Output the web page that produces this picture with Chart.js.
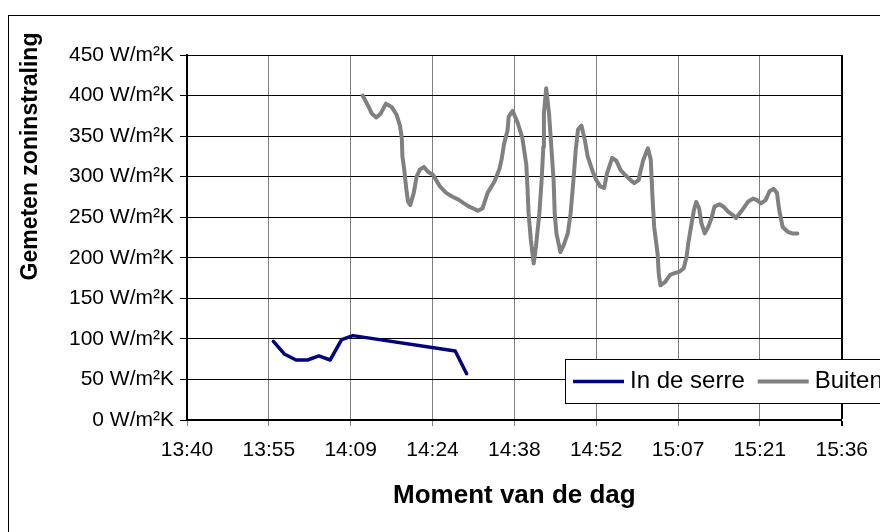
<!DOCTYPE html>
<html>
<head>
<meta charset="utf-8">
<script src="https://cdn.jsdelivr.net/npm/chart.js@4.4.1/dist/chart.umd.min.js"></script>
<style>
  html, body { margin: 0; padding: 0; background: #fff; }
  canvas { display: block; }
</style>
</head>
<body>
<canvas id="grafiek" width="880" height="532"></canvas>
<script>
// Tijdas: labels van de verticale rasterlijnen (stap 14,4 minuten)
const xTickLabels = ['13:40', '13:55', '14:09', '14:24', '14:38', '14:52', '15:07', '15:21', '15:36'];
const asStart = '13:40:48';
const asStapMinuten = 14.4;

// Eenheid achter de waarden op de verticale as
const yEenheid = ' W/m²K';

// Meting in de serre
const serreTijd = ['13:56', '13:58', '14:00', '14:02', '14:04', '14:06', '14:08', '14:10', '14:28', '14:30'];
const serreWaarde = [97, 81, 74, 74, 79, 74, 99, 104, 85, 57];

// Meting buiten
const buitenTijd = [
  '14:11:42', '14:12:42', '14:13:18', '14:14:06', '14:14:54', '14:15:48', '14:16:48', '14:17:42',
  '14:18:18', '14:18:36', '14:18:42', '14:19:00', '14:19:24', '14:19:42', '14:20:06', '14:20:42',
  '14:21:12', '14:21:48', '14:22:30', '14:23:12', '14:24:06', '14:25:18', '14:26:24', '14:27:36',
  '14:28:30', '14:30:12', '14:32:00', '14:32:48', '14:33:42', '14:34:54', '14:35:48', '14:36:12',
  '14:36:36', '14:37:12', '14:37:24', '14:38:06', '14:39:00', '14:39:48', '14:40:30', '14:40:42',
  '14:40:54', '14:41:18', '14:41:48', '14:42:12', '14:42:48', '14:43:12', '14:43:30', '14:43:36',
  '14:44:00', '14:44:30', '14:44:54', '14:45:18', '14:45:30', '14:45:48', '14:46:30', '14:47:06',
  '14:47:48', '14:48:18', '14:48:48', '14:49:12', '14:49:36', '14:50:12', '14:50:48', '14:51:18',
  '14:52:06', '14:52:48', '14:53:30', '14:54:12', '14:54:42', '14:55:36', '14:56:18', '14:57:06',
  '14:57:54', '14:58:48', '14:59:30', '15:00:18', '15:00:30', '15:01:06', '15:01:54', '15:02:24',
  '15:02:42', '15:03:00', '15:03:36', '15:03:48', '15:04:06', '15:04:54', '15:05:48', '15:06:36',
  '15:07:30', '15:08:12', '15:08:42', '15:09:00', '15:09:36', '15:10:00', '15:10:24', '15:10:54',
  '15:11:18', '15:11:54', '15:12:30', '15:13:06', '15:13:36', '15:14:30', '15:15:12', '15:16:00',
  '15:16:48', '15:17:24', '15:18:18', '15:19:30', '15:20:24', '15:21:06', '15:21:48', '15:22:36',
  '15:23:18', '15:24:00', '15:24:36', '15:25:00', '15:25:36', '15:26:30', '15:27:18', '15:28:12'
];
const buitenWaarde = [
  400, 387, 378, 373, 378, 390, 386, 376,
  362, 347, 325, 310, 284, 269, 265, 280,
  300, 309, 312, 306, 302, 288, 280, 275,
  272, 264, 258, 261, 280, 294, 310, 323,
  341, 357, 374, 381, 366, 348, 315, 288,
  255, 222, 193, 214, 255, 296, 337, 378,
  409, 378, 337, 296, 255, 230, 207, 216,
  230, 255, 296, 333, 358, 363, 345, 325,
  308, 296, 288, 286, 304, 323, 320, 308,
  302, 296, 292, 296, 304, 321, 335, 321,
  275, 238, 205, 181, 166, 170, 179, 181,
  183, 187, 201, 218, 243, 259, 269, 261,
  243, 230, 238, 249, 263, 266, 263, 257,
  253, 249, 257, 269, 273, 271, 267, 271,
  282, 285, 280, 259, 238, 232, 230, 230
];

// "uu:mm[:ss]" -> minuten sinds middernacht
function naarMinuten(t) {
  const d = t.split(':').map(Number);
  return d[0] * 60 + d[1] + (d[2] || 0) / 60;
}
function punten(tijden, waarden) {
  return tijden.map((t, i) => ({ x: naarMinuten(t), y: waarden[i] }));
}

const xMin = naarMinuten(asStart);
const xMax = xMin + (xTickLabels.length - 1) * asStapMinuten;
const FONT = "'Liberation Sans', Arial, sans-serif";

// Kader, astitels en legenda
const opmaak = {
  id: 'opmaak',
  beforeDraw(chart) {
    const c = chart.ctx;
    c.save();
    c.fillStyle = '#fff';
    c.fillRect(0, 0, chart.width, chart.height);
    c.strokeStyle = '#000';
    c.lineWidth = 1;
    c.strokeRect(8.5, 15.5, 1000, 1000);
    c.restore();
  },
  afterDraw(chart) {
    const c = chart.ctx;
    const area = chart.chartArea;
    c.save();
    c.fillStyle = '#000';

    // titel verticale as
    c.font = 'bold 23px ' + FONT;
    c.textAlign = 'center';
    c.textBaseline = 'alphabetic';
    c.translate(37, 156.5);
    c.rotate(-Math.PI / 2);
    c.fillText('Gemeten zoninstraling', 0, 0);
    c.setTransform(1, 0, 0, 1, 0, 0);

    // titel horizontale as
    c.font = 'bold 26px ' + FONT;
    c.fillText('Moment van de dag', (area.left + area.right) / 2, 503);

    // legenda
    const top = 359.5, hoogte = 44;
    c.fillStyle = '#fff';
    c.fillRect(565.5, top, 1000, hoogte);
    c.strokeStyle = '#000';
    c.lineWidth = 1;
    c.strokeRect(565.5, top, 1000, hoogte);
    c.font = '24px ' + FONT;
    c.textAlign = 'left';
    c.textBaseline = 'middle';
    let x = 573;
    const ym = top + hoogte / 2;
    chart.data.datasets.forEach(ds => {
      c.strokeStyle = ds.borderColor;
      c.lineWidth = ds.borderWidth;
      c.beginPath();
      c.moveTo(x, ym);
      c.lineTo(x + 51, ym);
      c.stroke();
      c.fillStyle = '#000';
      c.fillText(ds.label, x + 57, ym);
      x += 57 + c.measureText(ds.label).width + 13;
    });
    c.restore();
  }
};

new Chart(document.getElementById('grafiek'), {
  type: 'line',
  data: {
    datasets: [
      {
        label: 'In de serre',
        data: punten(serreTijd, serreWaarde),
        borderColor: '#000080',
        borderWidth: 3.5,
        pointRadius: 0,
        tension: 0,
        borderJoinStyle: 'round',
        borderCapStyle: 'round',
        fill: false
      },
      {
        label: 'Buiten',
        data: punten(buitenTijd, buitenWaarde),
        borderColor: '#808080',
        borderWidth: 4,
        pointRadius: 0,
        tension: 0,
        borderJoinStyle: 'round',
        borderCapStyle: 'round',
        fill: false
      }
    ]
  },
  options: {
    responsive: false,
    animation: false,
    events: [],
    layout: { padding: { top: 55, right: 33, left: 0, bottom: 0 } },
    plugins: { legend: { display: false }, tooltip: { enabled: false } },
    scales: {
      x: {
        type: 'linear',
        min: xMin,
        max: xMax,
        afterBuildTicks: s => { s.ticks = xTickLabels.map((_, i) => ({ value: xMin + i * asStapMinuten })); },
        afterFit: s => { s.height = 112; },
        ticks: {
          callback: (v, i) => xTickLabels[i],
          font: { family: FONT, size: 21 },
          color: '#000',
          padding: 12,
          maxRotation: 0,
          autoSkip: false
        },
        grid: {
          color: c => c.index === xTickLabels.length - 1 ? '#000' : '#808080',
          lineWidth: c => c.index === xTickLabels.length - 1 ? 2 : 1,
          tickLength: 6
        },
        border: { color: '#000', width: 2 }
      },
      y: {
        min: 0,
        max: 450,
        afterFit: s => { s.width = 187; },
        ticks: {
          stepSize: 50,
          callback: v => v + yEenheid,
          font: { family: FONT, size: 21 },
          color: '#000',
          padding: 6
        },
        grid: { color: '#000', lineWidth: 1, tickLength: 7 },
        border: { color: '#000', width: 2 }
      }
    }
  },
  plugins: [opmaak]
});
</script>
</body>
</html>
